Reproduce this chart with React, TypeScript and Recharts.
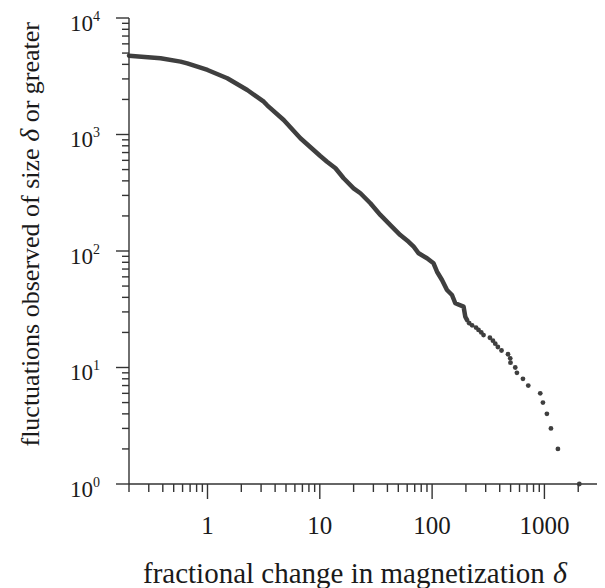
import React from 'react';
import { ComposedChart, Line, Scatter, XAxis, YAxis, Label } from 'recharts';

// dense part of the rank curve: delta (x) vs number of fluctuations >= delta (y)
const curveDelta = [0.2, 0.382, 0.575, 0.66, 1.0, 1.5, 2.26, 3.17, 3.4, 4.77, 6.72, 10.1, 11.6, 13.8, 16.3, 20.0, 23.0, 28.2, 34.6, 42.5, 52.1, 61.8, 68.5, 75.9, 90.1, 103, 110.6, 122.5, 135.7, 150.3, 160.9, 190.6, 197.4, 205];
const curveCount = [4750, 4510, 4220, 4080, 3580, 3040, 2410, 1912, 1780, 1332, 928, 654, 584, 513, 421, 345, 313, 257, 204, 167, 137, 120, 109, 95.6, 86.6, 78.4, 66.4, 56.4, 46.3, 41.9, 35.6, 33.3, 27.3, 25.5];

// sparse tail: individual events
const tailDelta = [214, 227, 246, 259, 274, 287, 327, 348, 365, 385, 415, 474, 496, 499, 550, 569, 644, 718, 918, 970, 1052, 1143, 1319, 2045];
const tailCount = [24, 23, 22, 21, 20, 19, 18, 17, 16, 15, 14, 13, 12, 11, 10, 9, 8, 7, 6, 5, 4, 3, 2, 1];

const xTicks = [0.2, 0.3, 0.4, 0.5, 0.6, 0.7, 0.8, 0.9, 1, 2, 3, 4, 5, 6, 7, 8, 9, 10, 20, 30, 40, 50, 60, 70, 80, 90, 100, 200, 300, 400, 500, 600, 700, 800, 900, 1000, 2000, 3000];
const xMajor = [1, 10, 100, 1000];
const yTicks = [1, 2, 3, 4, 5, 6, 7, 8, 9, 10, 20, 30, 40, 50, 60, 70, 80, 90, 100, 200, 300, 400, 500, 600, 700, 800, 900, 1000, 2000, 3000, 4000, 5000, 6000, 7000, 8000, 9000, 10000];
const yMajor = [1, 10, 100, 1000, 10000];
const yMajorExp = ['0', '1', '2', '3', '4'];

const curveData = curveDelta.map((d, i) => ({ x: d, y: curveCount[i] }));
const tailData = tailDelta.map((d, i) => ({ x: d, y: tailCount[i] }));

const FONT = '"Liberation Serif", "Times New Roman", serif';
const INK = '#3f3f3f';
const AXIS = '#333';
const TEXT = '#1a1a1a';

const XTick = (props: any) => {
  const { x, y, payload } = props;
  const v = payload.value;
  const major = xMajor.includes(v);
  return (
    <g>
      <line x1={x} x2={x} y1={y} y2={y + (major ? 15 : 8)} stroke={AXIS} strokeWidth={1.4} />
      {major && (
        <text x={x} y={y + 50} textAnchor="middle" fontFamily={FONT} fontSize={25} fill={TEXT}>
          {String(v)}
        </text>
      )}
    </g>
  );
};

const YTick = (props: any) => {
  const { x, y, payload } = props;
  const v = payload.value;
  const idx = yMajor.indexOf(v);
  const major = idx >= 0;
  return (
    <g>
      <line x1={x} x2={x - (major ? 13 : 7)} y1={y} y2={y} stroke={AXIS} strokeWidth={1.4} />
      {major && (
        <text x={x - 29} y={y + 12.5} textAnchor="end" fontFamily={FONT} fontSize={23} fill={TEXT}>
          10
          <tspan fontSize={14} dy={-10}>{yMajorExp[idx]}</tspan>
        </text>
      )}
    </g>
  );
};

const XTitle = () => (
  <text x={135} y={575} fontFamily={FONT} fontSize={29} fill={TEXT}>
    fractional change in magnetization
    <tspan x={545} fontStyle="italic" fontSize={30}>δ</tspan>
  </text>
);

const YTitle = () => (
  <text x={31} y={14} transform="rotate(-90 31 14)" textAnchor="end" fontFamily={FONT} fontSize={26} fill={TEXT}>
    fluctuations observed of size <tspan fontStyle="italic" fontSize={28}>δ</tspan> or greater
  </text>
);

const Dot = (p: any) => <circle cx={p.cx} cy={p.cy} r={2.4} fill={INK} />;

export default function App() {
  return (
    <ComposedChart width={597} height={580} margin={{ top: 10, right: 7, bottom: 44, left: 61 }}>
      <XAxis
        type="number"
        dataKey="x"
        scale="log"
        domain={[0.2, 3000]}
        ticks={xTicks}
        interval={0}
        tickSize={0}
        tickMargin={0}
        tick={<XTick />}
        axisLine={{ stroke: AXIS, strokeWidth: 1.4 }}
        height={60}
      >
        <Label content={<XTitle />} />
      </XAxis>
      <YAxis
        type="number"
        dataKey="y"
        scale="log"
        domain={[1, 10000]}
        ticks={yTicks}
        interval={0}
        tickSize={0}
        tickMargin={0}
        tick={<YTick />}
        axisLine={{ stroke: AXIS, strokeWidth: 1.4 }}
        width={60}
      >
        <Label content={<YTitle />} />
      </YAxis>
      <Line
        data={curveData}
        dataKey="y"
        type="linear"
        stroke={INK}
        strokeWidth={4.5}
        strokeLinejoin="round"
        strokeLinecap="round"
        dot={false}
        activeDot={false}
        isAnimationActive={false}
      />
      <Scatter data={tailData} dataKey="y" fill={INK} shape={<Dot />} isAnimationActive={false} />
    </ComposedChart>
  );
}
